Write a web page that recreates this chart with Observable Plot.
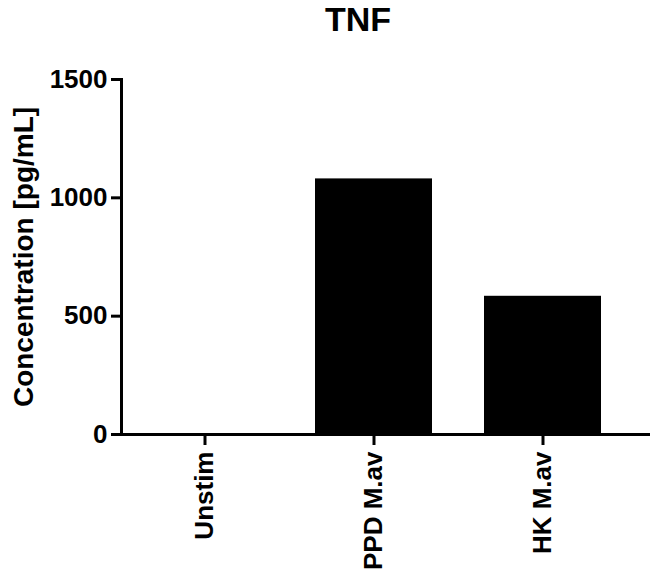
<!DOCTYPE html>
<html>
<head>
<meta charset="utf-8">
<script src="https://cdn.jsdelivr.net/npm/d3@7"></script>
<script src="https://cdn.jsdelivr.net/npm/@observablehq/plot@0.6"></script>
<style>
  body { margin: 0; background: #fff; }
  #title { width: 650px; height: 50px; line-height: 50px; text-align: center; padding-left: 66px; box-sizing: border-box;
           font: bold 34px Arial, "Liberation Sans", sans-serif; color: #000; }
</style>
</head>
<body>
<div id="title"></div>
<div id="chart"></div>
<script>
const title = "TNF";
const yLabel = "Concentration [pg/mL]";
const categories = ["Unstim", "PPD M.av", "HK M.av"];
const values = [0, 1080, 584];
const yTicks = [0, 500, 1000, 1500];

const data = categories.map((c, i) => ({category: c, value: values[i]}));
document.getElementById("title").textContent = title;

const chart = Plot.plot({
  width: 650,
  height: 523,
  marginTop: 29,
  marginBottom: 139,
  marginLeft: 121,
  marginRight: 0,
  style: {fontFamily: "Arial, 'Liberation Sans', sans-serif", fontWeight: "bold", fontSize: "26px", color: "#000", background: "#fff"},
  x: {domain: categories, range: [120, 627], paddingInner: 0.31, paddingOuter: 0.155, align: 0.5, axis: null},
  y: {domain: [0, 1500], axis: null},
  marks: [
    Plot.barY(data, {x: "category", y: "value", fill: "#000"}),
    Plot.frame({anchor: "left", strokeWidth: 3}),
    Plot.ruleY([0], {strokeWidth: 3}),
    Plot.axisY({ticks: yTicks, tickFormat: d => String(d), tickSize: 10, tickPadding: 4, strokeWidth: 3, fontSize: 26, label: null}),
    Plot.axisY({ticks: [], label: yLabel, labelArrow: "none", labelAnchor: "center", labelOffset: 108, fontSize: 28}),
    Plot.axisX({tickRotate: -90, tickSize: 11, tickPadding: 6, strokeWidth: 3, fontSize: 26, label: null})
  ]
});
document.getElementById("chart").appendChild(chart);
</script>
</body>
</html>
